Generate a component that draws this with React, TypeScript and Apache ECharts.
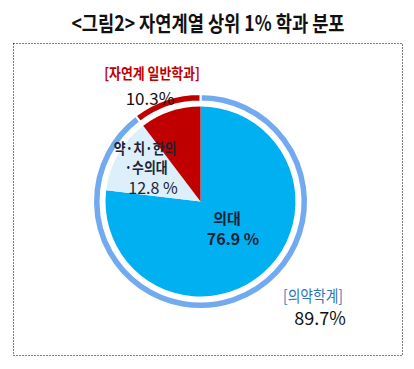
import React, { useEffect, useRef } from "react";
import * as echarts from "echarts";

const title = "<그림2> 자연계열 상위 1% 학과 분포";
const innerNames = ["의대", "약·치·한의·수의대", "자연계 일반학과"];
const innerValues = [76.9, 12.8, 10.3];
const innerColors = ["#00B0F0", "#DDEFFB", "#C00000"];
const outerNames = ["의약학계", "자연계 일반학과"];
const outerValues = [89.7, 10.3];
const outerColors = ["#72AAF0", "#C00000"];
const midLabelLines = ["약·치·한의", "·수의대"];

const FONT = "'Noto Sans CJK KR', 'Noto Sans', sans-serif";
const DARK = "#1B2335";

export default function App() {
  const ref = useRef<HTMLDivElement>(null);
  useEffect(() => {
    if (!ref.current) return;
    const chart = echarts.init(ref.current, null, { renderer: "svg" });
    const center = [200.5, 201.5];
    const txt = (x: number, y: number, text: string, size: number, weight: any, color: string, extra: any = {}) => ({
      type: "text",
      x,
      y,
      z: 100,
      zlevel: 0,
      style: {
        text,
        fontSize: size,
        fontWeight: weight,
        fontFamily: FONT,
        fill: color,
        align: "center",
        verticalAlign: "middle",
      },
      ...extra,
    });
    const narrow = { scaleX: 0.86, originX: 0, originY: 0 };
    chart.setOption({
      animation: false,
      backgroundColor: "#ffffff",
      series: [
        {
          type: "pie",
          radius: [0, 95],
          center,
          startAngle: 90,
          clockwise: true,
          silent: true,
          z: 1,
          label: { show: false },
          labelLine: { show: false },
          data: innerNames.map((n, i) => ({
            name: n,
            value: innerValues[i],
            itemStyle: { color: innerColors[i] },
          })),
        },
        {
          type: "pie",
          radius: [100, 107.5],
          center,
          startAngle: 90,
          clockwise: true,
          silent: true,
          z: 1,
          label: { show: false },
          labelLine: { show: false },
          itemStyle: { borderColor: "#ffffff", borderWidth: 2 },
          data: outerNames.map((n, i) => ({
            name: n,
            value: outerValues[i],
            itemStyle: { color: outerColors[i] },
          })),
        },
      ],
      graphic: [
        {
          type: "rect",
          z: 0,
          shape: { x: 13.5, y: 43.5, width: 389, height: 312 },
          style: { fill: "none", stroke: "#000", lineWidth: 1, lineDash: [1, 2] },
        },
        txt(208, 22, title, 21, "bold", "#111", { scaleX: 0.84, originX: 0, originY: 0 }),
        txt(152, 73, `[${outerNames[1]}]`, 15, "bold", "#C00000", narrow),
        txt(150, 97, `${outerValues[1]}%`, 17, "normal", "#111"),
        txt(145, 148, midLabelLines[0], 15, "bold", DARK, narrow),
        txt(146, 167, midLabelLines[1], 15, "bold", DARK, narrow),
        txt(153, 187, `${innerValues[1]} %`, 16, "normal", DARK),
        txt(227, 217, innerNames[0], 15, "bold", DARK),
        txt(233, 238, `${innerValues[0]} %`, 16, "bold", DARK),
        txt(313, 295, `[${outerNames[0]}]`, 16, "normal", "#2E75B6", narrow),
        txt(320, 317, `${outerValues[0]}%`, 18, "normal", "#111"),
      ],
    });
    return () => chart.dispose();
  }, []);
  return (
    <div
      ref={ref}
      style={{ position: "fixed", left: 0, top: 0, width: 414, height: 369 }}
    />
  );
}
